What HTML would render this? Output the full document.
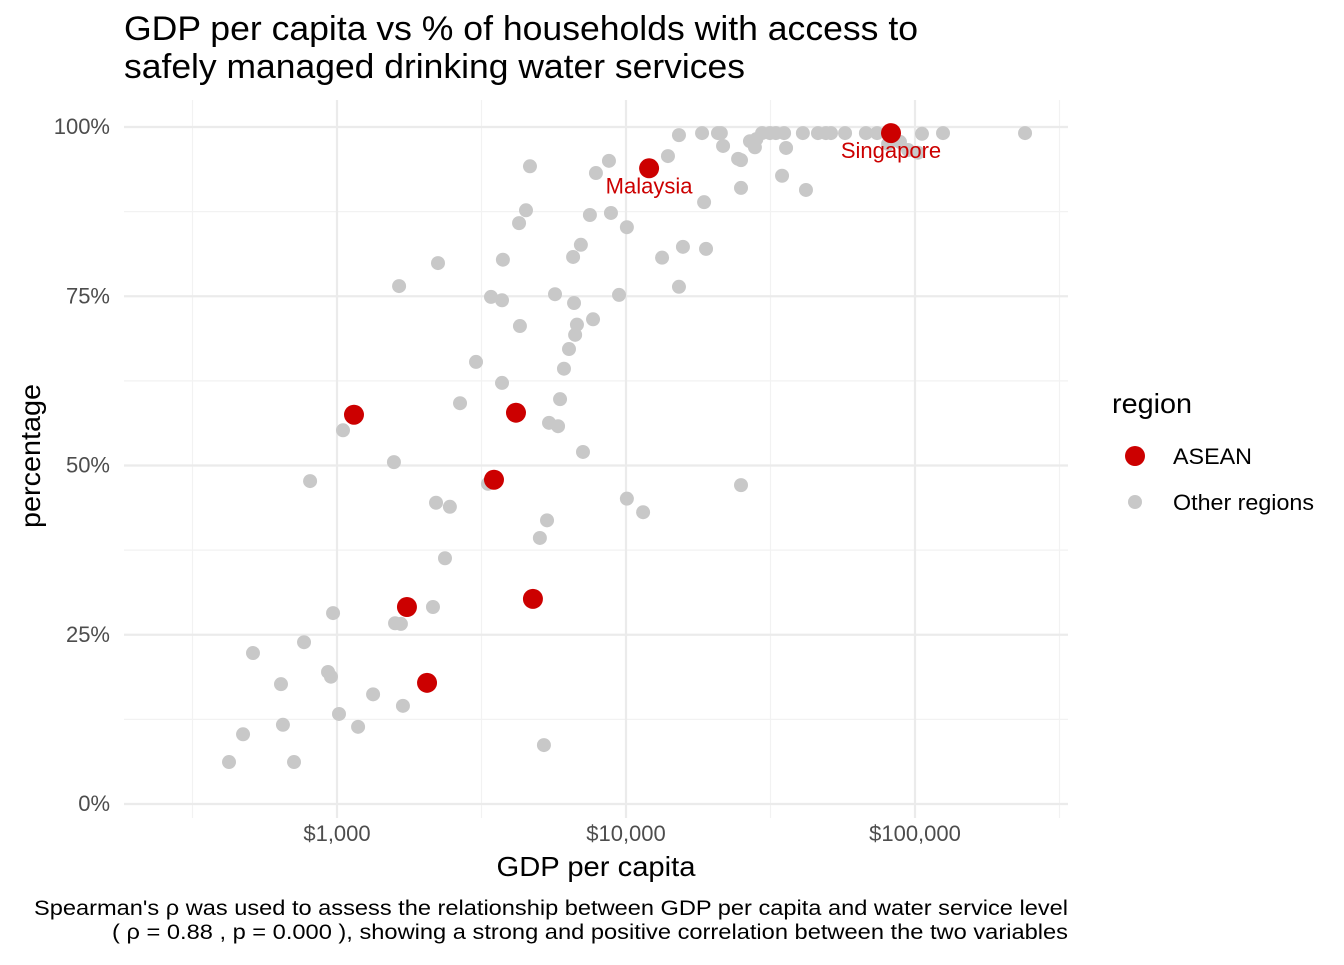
<!DOCTYPE html>
<html><head><meta charset="utf-8"><style>
body{margin:0;background:#fff;width:1344px;height:960px;overflow:hidden;font-family:"Liberation Sans",sans-serif;}
</style></head><body>
<svg id="chart" width="1344" height="960" xmlns="http://www.w3.org/2000/svg" font-family="Liberation Sans, sans-serif">
<text x="124" y="40" font-size="34" textLength="794" lengthAdjust="spacingAndGlyphs" fill="#000">GDP per capita vs % of households with access to</text>
<text x="124" y="78" font-size="34" textLength="621" lengthAdjust="spacingAndGlyphs" fill="#000">safely managed drinking water services</text>
<g id="grid"></g>
<g id="points"></g>
<text x="596" y="876" font-size="28" textLength="199" lengthAdjust="spacingAndGlyphs" text-anchor="middle">GDP per capita</text>
<text transform="translate(40,456) rotate(-90)" font-size="28" textLength="144" lengthAdjust="spacingAndGlyphs" text-anchor="middle">percentage</text>
<text x="1112" y="413" font-size="28" textLength="80" lengthAdjust="spacingAndGlyphs">region</text>
<circle cx="1135" cy="456" r="10" fill="#cc0000"/>
<text x="1173" y="464" font-size="22" textLength="79" lengthAdjust="spacingAndGlyphs">ASEAN</text>
<circle cx="1135" cy="502" r="7" fill="#c8c8c8"/>
<text x="1173" y="510" font-size="22" textLength="141" lengthAdjust="spacingAndGlyphs">Other regions</text>
<text x="1068" y="915" font-size="21" textLength="1034" lengthAdjust="spacingAndGlyphs" text-anchor="end">Spearman's ρ was used to assess the relationship between GDP per capita and water service level</text>
<text x="1068" y="939" font-size="21" textLength="956" lengthAdjust="spacingAndGlyphs" text-anchor="end">( ρ = 0.88 , p = 0.000 ), showing a strong and positive correlation between the two variables</text>
</svg>
<script>
const otherGdp=[423,473,512,640,650,710,769,807,931,953,969,1016,1049,1183,1333,1574,1588,1640,1664,1691,2148,2201,2236,2458,2364,2665,3027,3329,3411,3724,3750,3724,4265,4295,4508,4653,5035,5200,5330,5416,5680,5820,5913,6100,6350,6560,6610,6668,6765,6980,7098,7500,7690,7870,8730,8870,9460,10070,10070,11460,13330,13970,15250,15250,15740,18330,18630,18920,20810,21290,21670,24430,25000,25000,25000,26850,27930,28250,29570,31480,33000,35240,34670,35800,40930,41950,46160,49180,51200,57280,67620,73890,80700,88690,94630,102400,105700,125000,240300];
const otherPct=[6.2,10.3,22.3,17.7,11.7,6.2,23.9,47.7,19.5,18.8,28.2,13.3,55.2,11.4,16.2,50.5,26.7,76.5,26.6,14.5,29.1,44.5,79.9,43.9,36.3,59.2,65.3,47.3,74.9,62.2,80.4,74.4,85.8,70.6,87.7,94.2,39.3,8.7,41.9,56.3,75.3,55.8,59.8,64.3,67.2,80.8,74.0,69.3,70.8,82.6,52.0,87.0,71.6,93.2,95.0,87.3,75.2,85.2,45.1,43.1,80.7,95.7,98.8,76.4,82.3,99.1,88.9,82.0,99.1,99.1,97.2,95.3,95.1,91.0,47.1,97.9,97.0,98.2,99.1,99.1,99.1,99.1,92.8,96.9,99.1,90.7,99.1,99.1,99.1,99.1,99.1,99.1,97.5,97.8,96.6,96.2,99.0,99.1,99.1];
const aseanNames=["","","","","","","Malaysia","Singapore"];
const aseanGdp=[1145,1746,2049,3493,4162,4764,12020,82600];
const aseanPct=[57.5,29.1,17.9,47.9,57.8,30.3,93.9,99.1];
const xTicks=[1000,10000,100000];
const xTickLabels=["$1,000","$10,000","$100,000"];
const yTicks=[0,25,50,75,100];
const yTickLabels=["0%","25%","50%","75%","100%"];

const NS="http://www.w3.org/2000/svg";
const X=v=>337+289*(Math.log10(v)-3);
const Y=p=>804-6.77*p;
const L=124,R=1068,T=100,B=818;
function mk(tag,attrs,parent){const e=document.createElementNS(NS,tag);for(const k in attrs)e.setAttribute(k,attrs[k]);parent.appendChild(e);return e;}
const grid=document.getElementById('grid'),pts=document.getElementById('points'),svg=document.getElementById('chart');
for(let e=2.5;e<=5.5;e+=1){const x=X(Math.pow(10,e));const l=mk('line',{x1:x,x2:x,y1:T,y2:B,stroke:'#f2f2f2','stroke-width':1.2},grid);

}
for(let p=12.5;p<100;p+=25){const y=Y(p);const l=mk('line',{x1:L,x2:R,y1:y,y2:y,stroke:'#f2f2f2','stroke-width':1.2},grid);

}
xTicks.forEach((v,i)=>{const x=X(v);const l=mk('line',{x1:x,x2:x,y1:T,y2:B,stroke:'#ebebeb','stroke-width':2.2},grid);


const t=mk('text',{x:x,y:841,'font-size':22,fill:'#4d4d4d','text-anchor':'middle'},svg);t.textContent=xTickLabels[i];

});
yTicks.forEach((v,i)=>{const y=Y(v);const l=mk('line',{x1:L,x2:R,y1:y,y2:y,stroke:'#ebebeb','stroke-width':2.2},grid);


const t=mk('text',{x:110,y:y+7,'font-size':22,fill:'#4d4d4d','text-anchor':'end'},svg);t.textContent=yTickLabels[i];

});
otherGdp.forEach((g,i)=>{const c=mk('circle',{cx:X(g),cy:Y(otherPct[i]),r:7,fill:'#c8c8c8'},pts);

});
aseanGdp.forEach((g,i)=>{const c=mk('circle',{cx:X(g),cy:Y(aseanPct[i]),r:10,fill:'#cc0000'},pts);


if(aseanNames[i]){const t=mk('text',{x:X(g),y:Y(aseanPct[i])+25,'font-size':22,fill:'#cc0000','text-anchor':'middle'},pts);t.textContent=aseanNames[i];

}});
</script>
</body></html>
